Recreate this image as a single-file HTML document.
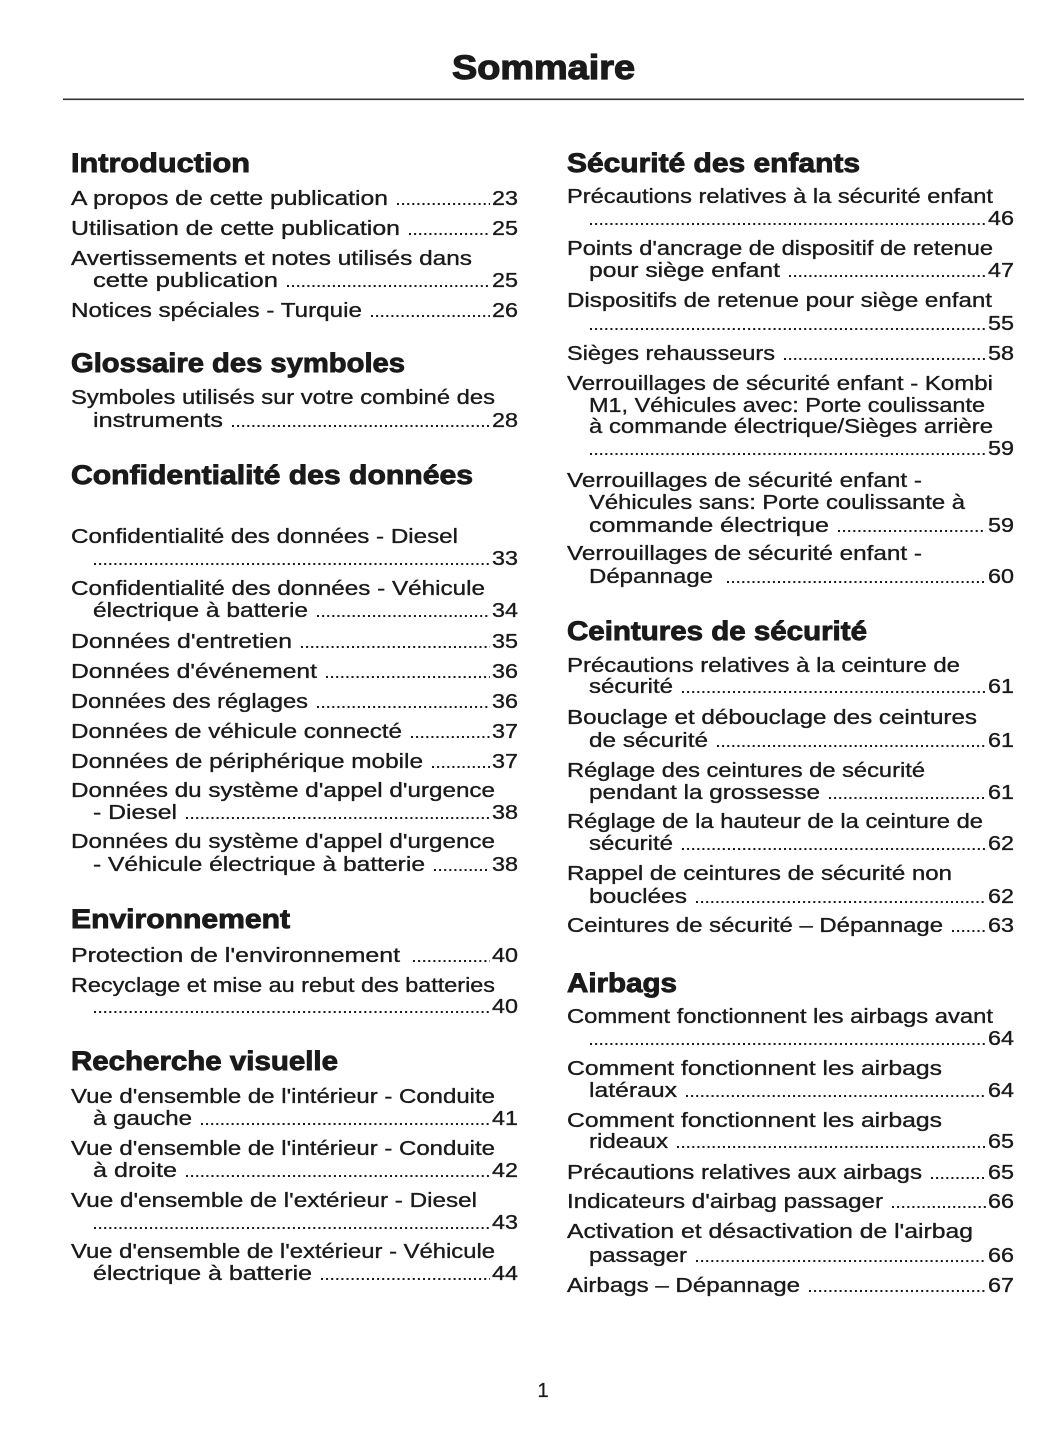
<!DOCTYPE html>
<html><head><meta charset="utf-8"><style>
html,body{margin:0;padding:0;background:#fff;}
svg{display:block;}
.t{font-family:"Liberation Sans",sans-serif;font-size:20.5px;fill:#1a1a1a;stroke:#1a1a1a;stroke-width:0.35px;}
.h{font-family:"Liberation Sans",sans-serif;font-size:26.5px;font-weight:bold;fill:#1a1a1a;stroke:#1a1a1a;stroke-width:0.9px;}
.n{font-family:"Liberation Sans",sans-serif;font-size:20.5px;fill:#1a1a1a;stroke:#1a1a1a;stroke-width:0.35px;text-anchor:end;}
.d{stroke:#1a1a1a;stroke-width:2;stroke-dasharray:2 3.1;}
</style></head><body>
<svg width="1055" height="1448" viewBox="0 0 1055 1448" xmlns="http://www.w3.org/2000/svg">
<text x="452" y="79" font-family="Liberation Sans, sans-serif" font-size="34" font-weight="bold" fill="#1a1a1a" stroke="#1a1a1a" stroke-width="1.2" textLength="183" lengthAdjust="spacingAndGlyphs">Sommaire</text>
<rect x="63" y="98.5" width="961" height="1.6" fill="#333"/>

<!-- LEFT COLUMN -->
<text class="h" x="71" y="172" textLength="179" lengthAdjust="spacingAndGlyphs">Introduction</text>
<text class="t" x="71" y="205" textLength="317" lengthAdjust="spacingAndGlyphs">A propos de cette publication</text>
<line class="d" x1="397" x2="490" y1="204" y2="204"/><text class="n" x="518" y="205" textLength="26" lengthAdjust="spacingAndGlyphs">23</text>
<text class="t" x="71" y="235" textLength="329" lengthAdjust="spacingAndGlyphs">Utilisation de cette publication</text>
<line class="d" x1="409" x2="490" y1="234" y2="234"/><text class="n" x="518" y="235" textLength="26" lengthAdjust="spacingAndGlyphs">25</text>
<text class="t" x="71" y="265" textLength="401" lengthAdjust="spacingAndGlyphs">Avertissements et notes utilisés dans</text>
<text class="t" x="93" y="287" textLength="185" lengthAdjust="spacingAndGlyphs">cette publication</text>
<line class="d" x1="287" x2="490" y1="286" y2="286"/><text class="n" x="518" y="287" textLength="26" lengthAdjust="spacingAndGlyphs">25</text>
<text class="t" x="71" y="317" textLength="291" lengthAdjust="spacingAndGlyphs">Notices spéciales - Turquie</text>
<line class="d" x1="371" x2="490" y1="316" y2="316"/><text class="n" x="518" y="317" textLength="26" lengthAdjust="spacingAndGlyphs">26</text>

<text class="h" x="71" y="372" textLength="334" lengthAdjust="spacingAndGlyphs">Glossaire des symboles</text>
<text class="t" x="71" y="404" textLength="424" lengthAdjust="spacingAndGlyphs">Symboles utilisés sur votre combiné des</text>
<text class="t" x="93" y="427" textLength="130" lengthAdjust="spacingAndGlyphs">instruments</text>
<line class="d" x1="232" x2="490" y1="426" y2="426"/><text class="n" x="518" y="427" textLength="26" lengthAdjust="spacingAndGlyphs">28</text>

<text class="h" x="71" y="484" textLength="402" lengthAdjust="spacingAndGlyphs">Confidentialité des données</text>
<text class="t" x="71" y="543" textLength="387" lengthAdjust="spacingAndGlyphs">Confidentialité des données - Diesel</text>
<line class="d" x1="94" x2="490" y1="564" y2="564"/><text class="n" x="518" y="565" textLength="26" lengthAdjust="spacingAndGlyphs">33</text>
<text class="t" x="71" y="595" textLength="414" lengthAdjust="spacingAndGlyphs">Confidentialité des données - Véhicule</text>
<text class="t" x="93" y="617" textLength="215" lengthAdjust="spacingAndGlyphs">électrique à batterie</text>
<line class="d" x1="317" x2="490" y1="616" y2="616"/><text class="n" x="518" y="617" textLength="26" lengthAdjust="spacingAndGlyphs">34</text>
<text class="t" x="71" y="648" textLength="221" lengthAdjust="spacingAndGlyphs">Données d'entretien</text>
<line class="d" x1="301" x2="490" y1="647" y2="647"/><text class="n" x="518" y="648" textLength="26" lengthAdjust="spacingAndGlyphs">35</text>
<text class="t" x="71" y="678" textLength="246" lengthAdjust="spacingAndGlyphs">Données d'événement</text>
<line class="d" x1="326" x2="490" y1="677" y2="677"/><text class="n" x="518" y="678" textLength="26" lengthAdjust="spacingAndGlyphs">36</text>
<text class="t" x="71" y="708" textLength="237" lengthAdjust="spacingAndGlyphs">Données des réglages</text>
<line class="d" x1="317" x2="490" y1="707" y2="707"/><text class="n" x="518" y="708" textLength="26" lengthAdjust="spacingAndGlyphs">36</text>
<text class="t" x="71" y="738" textLength="331" lengthAdjust="spacingAndGlyphs">Données de véhicule connecté</text>
<line class="d" x1="411" x2="490" y1="737" y2="737"/><text class="n" x="518" y="738" textLength="26" lengthAdjust="spacingAndGlyphs">37</text>
<text class="t" x="71" y="768" textLength="352" lengthAdjust="spacingAndGlyphs">Données de périphérique mobile</text>
<line class="d" x1="432" x2="490" y1="767" y2="767"/><text class="n" x="518" y="768" textLength="26" lengthAdjust="spacingAndGlyphs">37</text>
<text class="t" x="71" y="797" textLength="424" lengthAdjust="spacingAndGlyphs">Données du système d'appel d'urgence</text>
<text class="t" x="93" y="819" textLength="84" lengthAdjust="spacingAndGlyphs">- Diesel</text>
<line class="d" x1="186" x2="490" y1="818" y2="818"/><text class="n" x="518" y="819" textLength="26" lengthAdjust="spacingAndGlyphs">38</text>
<text class="t" x="71" y="848" textLength="424" lengthAdjust="spacingAndGlyphs">Données du système d'appel d'urgence</text>
<text class="t" x="93" y="871" textLength="332" lengthAdjust="spacingAndGlyphs">- Véhicule électrique à batterie</text>
<line class="d" x1="434" x2="490" y1="870" y2="870"/><text class="n" x="518" y="871" textLength="26" lengthAdjust="spacingAndGlyphs">38</text>

<text class="h" x="71" y="928" textLength="219" lengthAdjust="spacingAndGlyphs">Environnement</text>
<text class="t" x="71" y="962" textLength="329" lengthAdjust="spacingAndGlyphs">Protection de l'environnement</text>
<line class="d" x1="413" x2="490" y1="961" y2="961"/><text class="n" x="518" y="962" textLength="26" lengthAdjust="spacingAndGlyphs">40</text>
<text class="t" x="71" y="992" textLength="424" lengthAdjust="spacingAndGlyphs">Recyclage et mise au rebut des batteries</text>
<line class="d" x1="94" x2="490" y1="1012" y2="1012"/><text class="n" x="518" y="1013" textLength="26" lengthAdjust="spacingAndGlyphs">40</text>

<text class="h" x="71" y="1070" textLength="267" lengthAdjust="spacingAndGlyphs">Recherche visuelle</text>
<text class="t" x="71" y="1103" textLength="424" lengthAdjust="spacingAndGlyphs">Vue d'ensemble de l'intérieur - Conduite</text>
<text class="t" x="93" y="1125" textLength="99" lengthAdjust="spacingAndGlyphs">à gauche</text>
<line class="d" x1="201" x2="490" y1="1124" y2="1124"/><text class="n" x="518" y="1125" textLength="26" lengthAdjust="spacingAndGlyphs">41</text>
<text class="t" x="71" y="1155" textLength="424" lengthAdjust="spacingAndGlyphs">Vue d'ensemble de l'intérieur - Conduite</text>
<text class="t" x="93" y="1177" textLength="84" lengthAdjust="spacingAndGlyphs">à droite</text>
<line class="d" x1="186" x2="490" y1="1176" y2="1176"/><text class="n" x="518" y="1177" textLength="26" lengthAdjust="spacingAndGlyphs">42</text>
<text class="t" x="71" y="1207" textLength="406" lengthAdjust="spacingAndGlyphs">Vue d'ensemble de l'extérieur - Diesel</text>
<line class="d" x1="94" x2="490" y1="1228" y2="1228"/><text class="n" x="518" y="1229" textLength="26" lengthAdjust="spacingAndGlyphs">43</text>
<text class="t" x="71" y="1258" textLength="424" lengthAdjust="spacingAndGlyphs">Vue d'ensemble de l'extérieur - Véhicule</text>
<text class="t" x="93" y="1280" textLength="219" lengthAdjust="spacingAndGlyphs">électrique à batterie</text>
<line class="d" x1="321" x2="490" y1="1279" y2="1279"/><text class="n" x="518" y="1280" textLength="26" lengthAdjust="spacingAndGlyphs">44</text>

<!-- RIGHT COLUMN -->
<text class="h" x="567" y="172" textLength="293" lengthAdjust="spacingAndGlyphs">Sécurité des enfants</text>
<text class="t" x="567" y="203" textLength="426" lengthAdjust="spacingAndGlyphs">Précautions relatives à la sécurité enfant</text>
<line class="d" x1="590" x2="986" y1="224" y2="224"/><text class="n" x="1014" y="225" textLength="26" lengthAdjust="spacingAndGlyphs">46</text>
<text class="t" x="567" y="255" textLength="426" lengthAdjust="spacingAndGlyphs">Points d'ancrage de dispositif de retenue</text>
<text class="t" x="589" y="277" textLength="191" lengthAdjust="spacingAndGlyphs">pour siège enfant</text>
<line class="d" x1="789" x2="986" y1="276" y2="276"/><text class="n" x="1014" y="277" textLength="26" lengthAdjust="spacingAndGlyphs">47</text>
<text class="t" x="567" y="307" textLength="425" lengthAdjust="spacingAndGlyphs">Dispositifs de retenue pour siège enfant</text>
<line class="d" x1="590" x2="986" y1="329" y2="329"/><text class="n" x="1014" y="330" textLength="26" lengthAdjust="spacingAndGlyphs">55</text>
<text class="t" x="567" y="360" textLength="208" lengthAdjust="spacingAndGlyphs">Sièges rehausseurs</text>
<line class="d" x1="784" x2="986" y1="359" y2="359"/><text class="n" x="1014" y="360" textLength="26" lengthAdjust="spacingAndGlyphs">58</text>
<text class="t" x="567" y="390" textLength="426" lengthAdjust="spacingAndGlyphs">Verrouillages de sécurité enfant - Kombi</text>
<text class="t" x="589" y="412" textLength="396" lengthAdjust="spacingAndGlyphs">M1, Véhicules avec: Porte coulissante</text>
<text class="t" x="589" y="433" textLength="404" lengthAdjust="spacingAndGlyphs">à commande électrique/Sièges arrière</text>
<line class="d" x1="590" x2="986" y1="454" y2="454"/><text class="n" x="1014" y="455" textLength="26" lengthAdjust="spacingAndGlyphs">59</text>
<text class="t" x="567" y="487" textLength="355" lengthAdjust="spacingAndGlyphs">Verrouillages de sécurité enfant -</text>
<text class="t" x="589" y="509" textLength="376" lengthAdjust="spacingAndGlyphs">Véhicules sans: Porte coulissante à</text>
<text class="t" x="589" y="532" textLength="240" lengthAdjust="spacingAndGlyphs">commande électrique</text>
<line class="d" x1="838" x2="986" y1="531" y2="531"/><text class="n" x="1014" y="532" textLength="26" lengthAdjust="spacingAndGlyphs">59</text>
<text class="t" x="567" y="560" textLength="355" lengthAdjust="spacingAndGlyphs">Verrouillages de sécurité enfant -</text>
<text class="t" x="589" y="583" textLength="124" lengthAdjust="spacingAndGlyphs">Dépannage</text>
<line class="d" x1="727" x2="986" y1="582" y2="582"/><text class="n" x="1014" y="583" textLength="26" lengthAdjust="spacingAndGlyphs">60</text>

<text class="h" x="567" y="640" textLength="300" lengthAdjust="spacingAndGlyphs">Ceintures de sécurité</text>
<text class="t" x="567" y="672" textLength="393" lengthAdjust="spacingAndGlyphs">Précautions relatives à la ceinture de</text>
<text class="t" x="589" y="693" textLength="84" lengthAdjust="spacingAndGlyphs">sécurité</text>
<line class="d" x1="682" x2="986" y1="692" y2="692"/><text class="n" x="1014" y="693" textLength="26" lengthAdjust="spacingAndGlyphs">61</text>
<text class="t" x="567" y="724" textLength="410" lengthAdjust="spacingAndGlyphs">Bouclage et débouclage des ceintures</text>
<text class="t" x="589" y="747" textLength="119" lengthAdjust="spacingAndGlyphs">de sécurité</text>
<line class="d" x1="717" x2="986" y1="746" y2="746"/><text class="n" x="1014" y="747" textLength="26" lengthAdjust="spacingAndGlyphs">61</text>
<text class="t" x="567" y="777" textLength="358" lengthAdjust="spacingAndGlyphs">Réglage des ceintures de sécurité</text>
<text class="t" x="589" y="799" textLength="231" lengthAdjust="spacingAndGlyphs">pendant la grossesse</text>
<line class="d" x1="829" x2="986" y1="798" y2="798"/><text class="n" x="1014" y="799" textLength="26" lengthAdjust="spacingAndGlyphs">61</text>
<text class="t" x="567" y="828" textLength="416" lengthAdjust="spacingAndGlyphs">Réglage de la hauteur de la ceinture de</text>
<text class="t" x="589" y="850" textLength="84" lengthAdjust="spacingAndGlyphs">sécurité</text>
<line class="d" x1="682" x2="986" y1="849" y2="849"/><text class="n" x="1014" y="850" textLength="26" lengthAdjust="spacingAndGlyphs">62</text>
<text class="t" x="567" y="880" textLength="385" lengthAdjust="spacingAndGlyphs">Rappel de ceintures de sécurité non</text>
<text class="t" x="589" y="903" textLength="98" lengthAdjust="spacingAndGlyphs">bouclées</text>
<line class="d" x1="696" x2="986" y1="902" y2="902"/><text class="n" x="1014" y="903" textLength="26" lengthAdjust="spacingAndGlyphs">62</text>
<text class="t" x="567" y="932" textLength="376" lengthAdjust="spacingAndGlyphs">Ceintures de sécurité – Dépannage</text>
<line class="d" x1="952" x2="986" y1="931" y2="931"/><text class="n" x="1014" y="932" textLength="26" lengthAdjust="spacingAndGlyphs">63</text>

<text class="h" x="567" y="992" textLength="110" lengthAdjust="spacingAndGlyphs">Airbags</text>
<text class="t" x="567" y="1023" textLength="426" lengthAdjust="spacingAndGlyphs">Comment fonctionnent les airbags avant</text>
<line class="d" x1="590" x2="986" y1="1044" y2="1044"/><text class="n" x="1014" y="1045" textLength="26" lengthAdjust="spacingAndGlyphs">64</text>
<text class="t" x="567" y="1075" textLength="375" lengthAdjust="spacingAndGlyphs">Comment fonctionnent les airbags</text>
<text class="t" x="589" y="1097" textLength="88" lengthAdjust="spacingAndGlyphs">latéraux</text>
<line class="d" x1="686" x2="986" y1="1096" y2="1096"/><text class="n" x="1014" y="1097" textLength="26" lengthAdjust="spacingAndGlyphs">64</text>
<text class="t" x="567" y="1127" textLength="375" lengthAdjust="spacingAndGlyphs">Comment fonctionnent les airbags</text>
<text class="t" x="589" y="1148" textLength="79" lengthAdjust="spacingAndGlyphs">rideaux</text>
<line class="d" x1="677" x2="986" y1="1147" y2="1147"/><text class="n" x="1014" y="1148" textLength="26" lengthAdjust="spacingAndGlyphs">65</text>
<text class="t" x="567" y="1179" textLength="355" lengthAdjust="spacingAndGlyphs">Précautions relatives aux airbags</text>
<line class="d" x1="931" x2="986" y1="1178" y2="1178"/><text class="n" x="1014" y="1179" textLength="26" lengthAdjust="spacingAndGlyphs">65</text>
<text class="t" x="567" y="1208" textLength="316" lengthAdjust="spacingAndGlyphs">Indicateurs d'airbag passager</text>
<line class="d" x1="892" x2="986" y1="1207" y2="1207"/><text class="n" x="1014" y="1208" textLength="26" lengthAdjust="spacingAndGlyphs">66</text>
<text class="t" x="567" y="1238" textLength="406" lengthAdjust="spacingAndGlyphs">Activation et désactivation de l'airbag</text>
<text class="t" x="589" y="1262" textLength="98" lengthAdjust="spacingAndGlyphs">passager</text>
<line class="d" x1="696" x2="986" y1="1261" y2="1261"/><text class="n" x="1014" y="1262" textLength="26" lengthAdjust="spacingAndGlyphs">66</text>
<text class="t" x="567" y="1292" textLength="233" lengthAdjust="spacingAndGlyphs">Airbags – Dépannage</text>
<line class="d" x1="809" x2="986" y1="1291" y2="1291"/><text class="n" x="1014" y="1292" textLength="26" lengthAdjust="spacingAndGlyphs">67</text>

<text x="543" y="1397" font-family="Liberation Sans, sans-serif" font-size="20" fill="#1a1a1a" stroke="#1a1a1a" stroke-width="0.3" text-anchor="middle">1</text>
</svg>
</body></html>
